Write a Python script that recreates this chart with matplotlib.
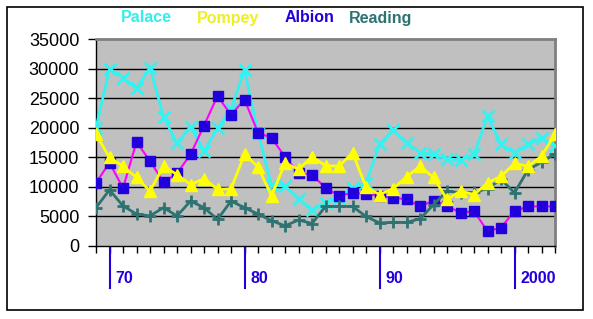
import numpy as np
import matplotlib.pyplot as plt
from matplotlib import transforms
from matplotlib.patches import Rectangle

plt.rcParams['font.family'] = ['Liberation Sans', 'DejaVu Sans']

years = list(range(1969, 2004))
palace = [20000, 30000, 28500, 26700, 30200, 21900, 17400, 20200, 16100, 19900,
          23200, 29800, 19200, 10300, 10150, 8000, 6100, 7300, 8200, 9900,
          10700, 17200, 19700, 17500, 15800, 15500, 14800, 14500, 15500, 22000,
          17200, 15800, 17200, 18300, 16900]
pompey = [18900, 15000, 13500, 11600, 9300, 13500, 12100, 10400, 11400, 9600,
          9700, 15500, 13400, 8500, 14000, 13000, 15100, 13600, 13500, 15800,
          10000, 8700, 9700, 11700, 13500, 11600, 7900, 9300, 8700, 10700,
          11800, 14000, 13500, 15200, 18900]
albion = [10700, 14100, 9800, 17600, 14400, 10800, 12300, 15500, 20400, 25400,
          22200, 24800, 19200, 18300, 15100, 12400, 12000, 9900, 8500, 9000,
          8800, 8500, 8200, 7900, 6700, 7700, 6800, 5600, 5900, 2500,
          3100, 5900, 6700, 6700, 6700]
reading = [6500, 9500, 6800, 5400, 5100, 6500, 5100, 7600, 6500, 4500,
           7600, 6500, 5400, 4300, 3400, 4400, 3800, 6700, 6700, 6700,
           5000, 3900, 4000, 4000, 4600, 7000, 9300, 9000, 9100, 9700,
           11300, 9000, 12900, 14200, 15600]
decade_years = [1970, 1980, 1990, 2000]
decade_labels = ['70', '80', '90', '2000']

c_palace = '#33F2F2'
c_pompey = '#FFFF00'
c_albion = '#2200DD'
c_albion_line = '#FF00FF'
c_reading = '#2E7272'

fig = plt.figure(figsize=(5.93, 3.19), dpi=100)
ax = fig.add_axes([96 / 593, 1 - 246 / 319, 459 / 593, 206.7 / 319])
ax.set_facecolor('#C0C0C0')

# figure frame
fig.patches.append(Rectangle((7 / 593, 1 - 310 / 319), 576 / 593, 303 / 319,
                             transform=fig.transFigure, fill=False,
                             edgecolor='black', lw=1.2))

for y in range(5000, 35000, 5000):
    ax.axhline(y, color='black', lw=1, zorder=1)

ax.plot(years, palace, color=c_palace, lw=2, marker='x', ms=9, mew=2, zorder=3)
ax.plot(years, pompey, color=c_pompey, lw=2, marker='^', ms=8, zorder=4)
ax.plot(years, albion, color=c_albion_line, lw=1.5, marker='s', ms=7,
        mfc=c_albion, mec=c_albion, zorder=3)
ax.plot(years, reading, color=c_reading, lw=2, marker='+', ms=9, mew=2, zorder=3)

ax.set_xlim(1969, 2003)
ax.set_ylim(0, 35000)
ax.set_yticks(range(0, 35001, 5000))
ax.set_yticklabels([str(v) for v in range(0, 35001, 5000)], fontsize=13)
ax.tick_params(axis='y', length=6, width=1, pad=6)
ax.set_xticks(years)
ax.set_xticklabels([])
ax.tick_params(axis='x', length=5, width=1)

for side in ['top', 'right']:
    ax.spines[side].set_color('#808080')
    ax.spines[side].set_linewidth(2)
for side in ['left', 'bottom']:
    ax.spines[side].set_color('black')
    ax.spines[side].set_linewidth(1)

# decade markers below the axis
trans = transforms.blended_transform_factory(ax.transData, ax.transAxes)
for yr, lab in zip(decade_years, decade_labels):
    ax.plot([yr, yr], [-0.01, -0.205], color=c_albion, lw=1.5,
            transform=trans, clip_on=False)
    ax.text(yr + 0.45, -0.155, lab, color=c_albion, fontsize=11.5,
            fontweight='bold', ha='left', va='center', transform=trans)

# legend as coloured names
names = ['Palace', 'Pompey', 'Albion', 'Reading']
cols = ['#33EEEE', '#EEEE22', c_albion, c_reading]
xs = [146, 228, 310, 381]
for n, c, x in zip(names, cols, xs):
    fig.text(x / 593, 1 - 18 / 319, n, color=c, fontsize=11.5,
             fontweight='bold', ha='center', va='center')

fig.savefig('out.png', dpi=100)
